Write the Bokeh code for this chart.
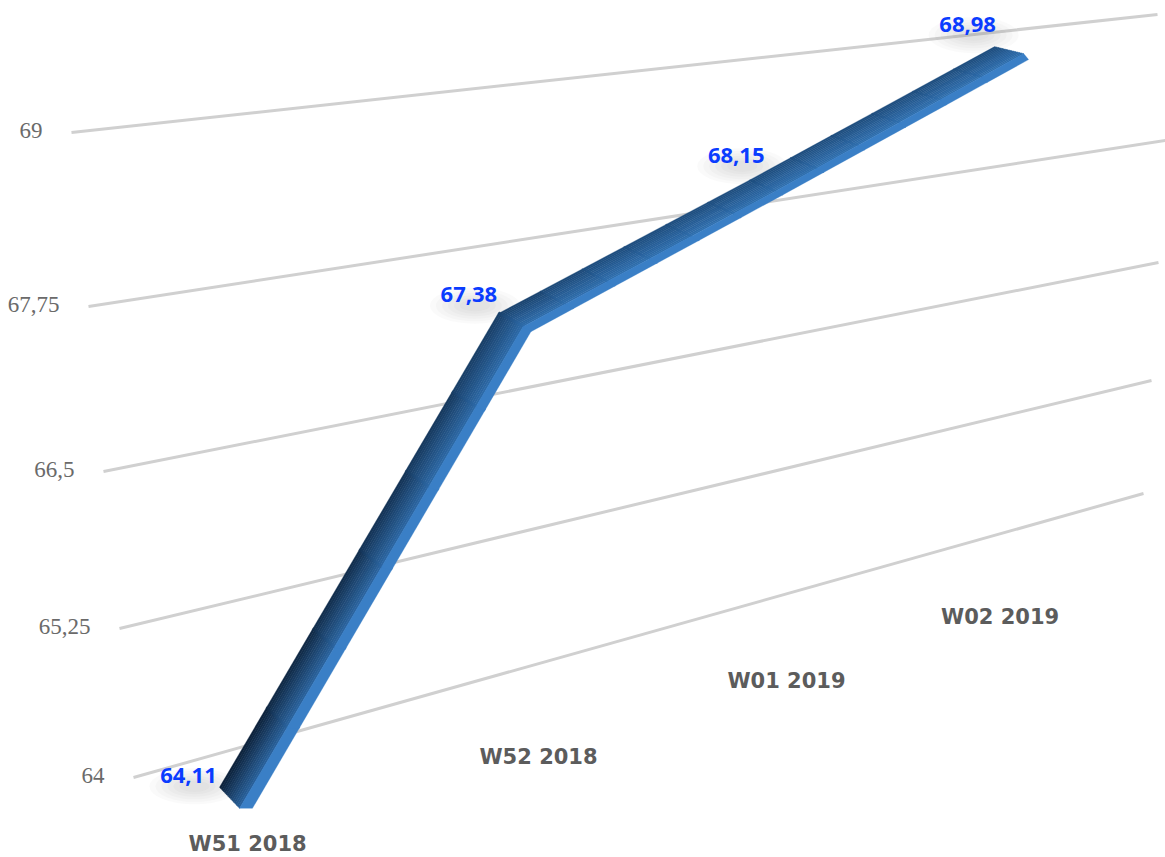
from bokeh.plotting import figure
from bokeh.embed import file_html
from bokeh.resources import INLINE
from bokeh.core.properties import value
from bokeh.models import Range1d
import numpy as np

categories = ["W51 2018", "W52 2018", "W01 2019", "W02 2019"]
series = [64.11, 67.38, 68.15, 68.98]
series_labels = ["64,11", "67,38", "68,15", "68,98"]
ticks = [64, 65.25, 66.5, 67.75, 69]
tick_labels = ["64", "65,25", "66,5", "67,75", "69"]

W, H = 1165, 857

# perspective frame of the chart: left and right end of every gridline
left_x = [133, 119, 103, 88, 71]
left_y = [777, 628, 471, 306, 132]
right_x = [1143, 1151, 1158, 1165, 1157]
right_y = [493, 380, 262, 140, 14]

def project(u, v):
    lx, ly = np.interp(v, ticks, left_x), np.interp(v, ticks, left_y)
    rx, ry = np.interp(v, ticks, right_x), np.interp(v, ticks, right_y)
    return lx + (rx - lx) * u, ly + (ry - ly) * u

# category position across the frame (foreshortened)
LINE_U = [0.098, 0.3895, 0.628, 0.860]
# depth of the ribbon in front of the gridline plane
DROP = [59.5, 36, 32, 22]
centre = []
for u, v, d in zip(LINE_U, series, DROP):
    x, y = project(u, v)
    centre.append((x, y + d))
centre = np.array(centre)

# ribbon section, offsets from the centre line at each category
outer = centre + np.array([[-12, -9], [-12, -8], [-12, -8], [-12, -8]])
ridge = centre + np.array([[8, 12], [13, 5], [14, 3], [17, -1]])
lower = centre + np.array([[21, 12], [21, 10], [21, 7], [22, 5]])

def mix(a, b, t):
    a, b = np.array(a, float), np.array(b, float)
    return a + (b - a) * t

def hexc(c):
    return "#%02x%02x%02x" % tuple(int(round(k)) for k in c)

p = figure(width=W, height=H, output_backend="svg", toolbar_location=None,
           x_range=Range1d(0, W), y_range=Range1d(H, 0),
           min_border=0, outline_line_color=None, background_fill_color="white",
           border_fill_color="white")
p.axis.visible = False
p.grid.visible = False

# gridlines
for v in ticks:
    x0, y0 = project(0, v)
    x1, y1 = project(1, v)
    p.line([x0, x1], [y0, y1], line_color="#d0d0d0", line_width=3)

# y labels
for v, t in zip(ticks, tick_labels):
    x0, y0 = project(0, v)
    p.text([x0 - 29], [y0 - 2], text=[t], text_align="right", text_baseline="middle",
           text_color="#6a6a6a", text_font=value("Liberation Serif"), text_font_size="23px")

# category labels run parallel to the lowest gridline, foreshortened
CAT_U = [0.113, 0.401, 0.6465, 0.858]
CAT_DY = [99, 93, 87, 83]
for c, u, d in zip(categories, CAT_U, CAT_DY):
    x, y = project(u, ticks[0])
    p.text([x], [y + d], text=[c], text_align="center", text_baseline="middle",
           text_color="#5c5c5c", text_font=value("DejaVu Sans"), text_font_style="bold",
           text_font_size="21px")

# data label offsets from the gridline plane
LAB_OFF = [(-43, 38.5), (-41, 9), (-25, -1), (-38, -9)]
lab_xy = []
for u, v, (dx, dy) in zip(LINE_U, series, LAB_OFF):
    x, y = project(u, v)
    lab_xy.append((x + dx, y + dy))

# soft shadows of the data labels
for x, y in lab_xy:
    for k in range(6):
        p.ellipse([x + 6], [y + 11], width=90 - 12 * k, height=36 - 5 * k,
                  fill_color="#808080", fill_alpha=0.04, line_color=None)

# ribbon: shaded bands across, colour drifting along its length
N, M = 14, 6
for i in range(len(series) - 1):
    for m in range(M):
        s = (i + (m + 0.5) / M) / (len(series) - 1)
        k = min(1.0, s * 2.2)
        dark = mix((12, 30, 52), (30, 76, 124), k)
        bright = mix((42, 98, 156), (48, 112, 176), k)
        f0, f1 = m / M, (m + 1) / M + 0.004
        oa, ob = mix(outer[i], outer[i + 1], f0), mix(outer[i], outer[i + 1], f1)
        ra, rb = mix(ridge[i], ridge[i + 1], f0), mix(ridge[i], ridge[i + 1], f1)
        la, lb = mix(lower[i], lower[i + 1], f0), mix(lower[i], lower[i + 1], f1)
        for b in range(N):
            t0, t1 = b / N, (b + 1) / N + 0.01
            a0, a1 = mix(oa, ra, t0), mix(ob, rb, t0)
            b0, b1 = mix(oa, ra, t1), mix(ob, rb, t1)
            col = hexc(mix(dark, bright, (b + 0.5) / N))
            p.patch([a0[0], a1[0], b1[0], b0[0]], [a0[1], a1[1], b1[1], b0[1]],
                    fill_color=col, line_color=col, line_width=0.3)
        p.patch([ra[0], rb[0], lb[0], la[0]], [ra[1], rb[1], lb[1], la[1]],
                fill_color="#3a7fc6", line_color="#3a7fc6", line_width=0.3)

# data labels
for (x, y), t in zip(lab_xy, series_labels):
    p.text([x], [y], text=[t], text_align="center", text_baseline="middle",
           text_color="#0a3cff", text_font=value("Open Sans"), text_font_style="bold",
           text_font_size="22px")

open("out.html", "w").write(file_html(p, INLINE))
